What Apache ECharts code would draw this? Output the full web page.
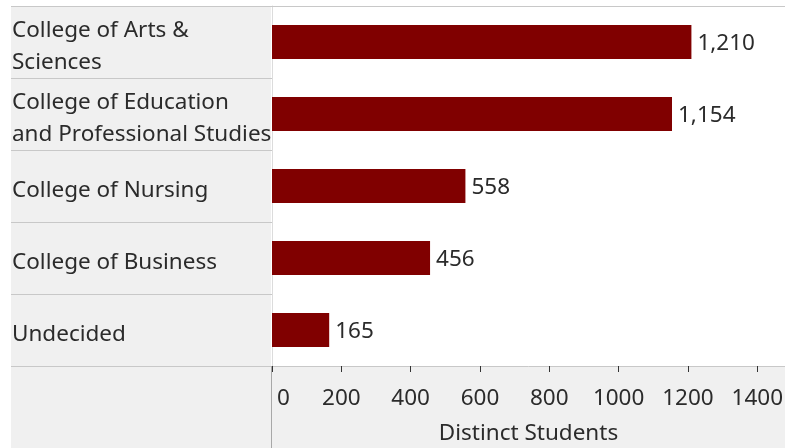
<!DOCTYPE html>
<html lang="en">
<head>
    <meta charset="UTF-8">
    <title>Distinct Students by College</title>
    <script src="https://cdn.jsdelivr.net/npm/echarts@6/dist/echarts.min.js"></script>
    <style>
        html, body { margin: 0; padding: 0; background: #ffffff; }
    </style>
</head>
<body>
<div id="chart-container" style="width: 785px;height: 448px;"></div>
<script type="text/javascript">
    // data (row labels wrapped as in the original)
    var colleges = [
        'College of Arts &\nSciences',
        'College of Education\nand Professional Studies',
        'College of Nursing',
        'College of Business',
        'Undecided'
    ];
    var students = [1210, 1154, 558, 456, 165];
    var xTicks = [0, 200, 400, 600, 800, 1000, 1200, 1400];

    var font = '"Noto Sans", "Open Sans", sans-serif';
    var textColor = '#2b2b2b';
    var fs = 22.5;

    var container = document.getElementById('chart-container');
    var myChart = echarts.init(container, null, { renderer: 'canvas' });

    var option = {
        animation: false,
        backgroundColor: '#ffffff',
        textStyle: { fontFamily: font },
        graphic: [
            // grey header panel for the row labels
            { type: 'rect', z: -10, shape: { x: 11, y: 6, width: 260, height: 442 }, style: { fill: '#f0f0f0' } },
            // grey axis area under the bars
            { type: 'rect', z: -10, shape: { x: 272, y: 366, width: 513, height: 82 }, style: { fill: '#f0f0f0' } },
            // top border
            { type: 'line', z: 5, shape: { x1: 11, y1: 6.5, x2: 785, y2: 6.5 }, style: { stroke: '#c8c8c8', lineWidth: 1 } },
            // divider below the axis
            { type: 'line', z: 5, shape: { x1: 271.5, y1: 366, x2: 271.5, y2: 448 }, style: { stroke: '#a8a8a8', lineWidth: 1 } }
        ],
        grid: {
            left: 272,
            right: 0,
            top: 6,
            bottom: 82,
            containLabel: false,
            outerBoundsMode: 'none'
        },
        xAxis: {
            type: 'value',
            min: 0,
            max: 1480,
            interval: 200,
            name: 'Distinct Students',
            nameLocation: 'middle',
            nameGap: 56,
            nameTextStyle: { fontSize: fs, color: textColor, fontFamily: font },
            splitLine: { show: false },
            axisLine: { show: true, lineStyle: { color: '#c8c8c8', width: 1 } },
            axisTick: {
                show: true,
                length: 6,
                customValues: xTicks,
                lineStyle: { color: '#333333' }
            },
            axisLabel: {
                customValues: xTicks,
                margin: 21,
                fontSize: fs,
                color: textColor,
                fontFamily: font,
                alignMinLabel: 'left',
                formatter: function (v) {
                    return v === 0 ? '{z|0}' : String(v);
                },
                rich: {
                    z: { fontSize: fs, color: textColor, fontFamily: font, padding: [0, 0, 0, 5] }
                }
            }
        },
        yAxis: {
            type: 'category',
            inverse: true,
            data: colleges,
            axisLine: { show: true, lineStyle: { color: '#dcdcdc', width: 1 } },
            axisTick: {
                show: true,
                length: 261,
                lineStyle: { color: '#c8c8c8', width: 1 }
            },
            axisLabel: {
                interval: 0,
                hideOverlap: false,
                margin: 260,
                align: 'left',
                // a thin spacer line on top pushes the text a little below the row centre
                formatter: function (v) {
                    return '{s| }\n' + v.split('\n').map(function (l) {
                        return '{a|' + l + '}';
                    }).join('\n');
                },
                rich: {
                    s: { fontSize: 1, lineHeight: 10, height: 10 },
                    a: { fontSize: fs, lineHeight: 32, color: textColor, fontFamily: font }
                }
            }
        },
        series: [
            {
                name: 'Distinct Students',
                type: 'bar',
                data: students,
                barWidth: 34,
                itemStyle: { color: '#800000' },
                label: {
                    show: true,
                    position: 'right',
                    distance: 6,
                    offset: [0, 2],
                    fontSize: fs,
                    color: textColor,
                    fontFamily: font,
                    formatter: function (p) {
                        return p.value.toLocaleString('en-US');
                    }
                }
            }
        ]
    };

    option && myChart.setOption(option);
</script>
</body>
</html>
